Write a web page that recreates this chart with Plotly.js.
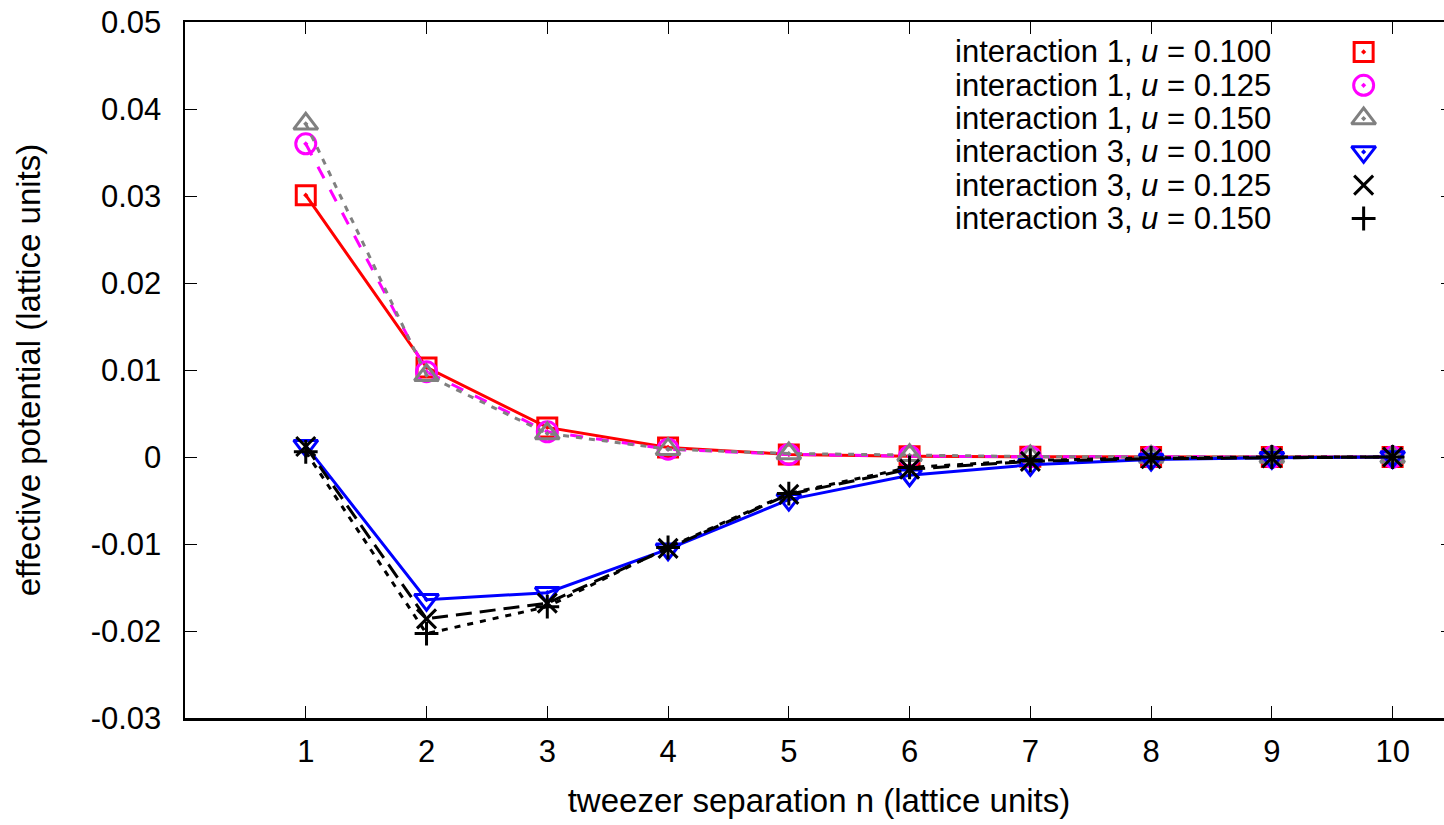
<!DOCTYPE html>
<html>
<head>
<meta charset="utf-8">
<script src="https://cdn.plot.ly/plotly-3.0.1.min.js"></script>
<style>
html, body { margin: 0; padding: 0; overflow: hidden; background: #fff; }
#chart { width: 1460px; height: 825px; }
</style>
</head>
<body>
<div id="chart"></div>
<script>
// ---- data ----
const separation = [1, 2, 3, 4, 5, 6, 7, 8, 9, 10];

const int1_u0100 = [0.0301, 0.0103, 0.0034, 0.0011, 0.0003, 0.0001, 0.00003, 0.0, 0.0, 0.0];
const int1_u0125 = [0.0360, 0.0098, 0.0029, 0.0009, 0.0003, 0.0001, 0.00003, 0.0, 0.0, 0.0];
const int1_u0150 = [0.0383, 0.0094, 0.0027, 0.0009, 0.0004, 0.0002, 0.00005, 0.0, 0.0, 0.0];
const int3_u0100 = [0.0013, -0.0164, -0.0156, -0.0106, -0.0049, -0.0021, -0.0009, -0.0003, -0.0001, 0.0];
const int3_u0125 = [0.0012, -0.0186, -0.0168, -0.0105, -0.0043, -0.0014, -0.0005, -0.0002, -0.0001, 0.0];
const int3_u0150 = [0.0006, -0.0203, -0.0172, -0.0104, -0.0042, -0.0012, -0.0004, -0.0001, 0.0, 0.0];

const seriesNames = [
  "interaction 1, <i>u</i> = 0.100",
  "interaction 1, <i>u</i> = 0.125",
  "interaction 1, <i>u</i> = 0.150",
  "interaction 3, <i>u</i> = 0.100",
  "interaction 3, <i>u</i> = 0.125",
  "interaction 3, <i>u</i> = 0.150"
];
const legendRows = [0, 1, 2, 3, 4, 5];

const xTickVals = [1, 2, 3, 4, 5, 6, 7, 8, 9, 10];
const yTickVals = [-0.03, -0.02, -0.01, 0, 0.01, 0.02, 0.03, 0.04, 0.05];
const yTickText = ["-0.03", "-0.02", "-0.01", "0", "0.01", "0.02", "0.03", "0.04", "0.05"];

const xTitle = "tweezer separation n (lattice units)";
const yTitle = "effective potential (lattice units)";

// ---- styles ----
const FONT = "Liberation Sans, Arial, Helvetica, sans-serif";
const FS = 31;
const FS_TEXT = 33;
const FS_KEY = 31;
const styles = [
  {color: "#ff0000", dash: "solid",        symbol: "square-open-dot",        size: 19},
  {color: "#ff00ff", dash: "13px,13px",    symbol: "circle-open-dot",        size: 20},
  {color: "#808080", dash: "6px,7px",      symbol: "triangle-up-open-dot",   size: 21},
  {color: "#0000ff", dash: "solid",        symbol: "triangle-down-open-dot", size: 21},
  {color: "#000000", dash: "16px,8px",     symbol: "x-thin-open",            size: 19},
  {color: "#000000", dash: "6px,7px",      symbol: "cross-thin-open",        size: 17}
];
const allSeries = [int1_u0100, int1_u0125, int1_u0150, int3_u0100, int3_u0125, int3_u0150];

const traces = allSeries.map((ys, i) => ({
  type: "scatter",
  mode: "lines+markers",
  x: separation,
  y: ys,
  name: seriesNames[i],
  showlegend: false,
  line: {color: styles[i].color, width: 3, dash: styles[i].dash},
  marker: {symbol: styles[i].symbol, size: styles[i].size, color: styles[i].color,
           line: {color: styles[i].color, width: 3}}
}));

// key markers (gnuplot-style key: text left, symbol right)
const KEY_X = 9.76;
legendRows.forEach((r, i) => {
  traces.push({
    type: "scatter",
    mode: "markers",
    x: [KEY_X],
    y: [r],
    yaxis: "y2",
    showlegend: false,
    hoverinfo: "skip",
    marker: {symbol: styles[i].symbol, size: styles[i].size, color: styles[i].color,
             line: {color: styles[i].color, width: 3}}
  });
});

const annotations = legendRows.map((r, i) => ({
  xref: "x", yref: "y2",
  x: 6.36, y: r,
  xanchor: "left", yanchor: "middle",
  text: seriesNames[i],
  showarrow: false,
  font: {family: FONT, size: FS_KEY, color: "#000"}
}));

const layout = {
  width: 1460,
  height: 825,
  margin: {l: 185, r: 7, t: 22, b: 107},
  paper_bgcolor: "#fff",
  plot_bgcolor: "#fff",
  font: {family: FONT, size: FS, color: "#000"},
  showlegend: false,
  xaxis: {
    range: [0, 10.5],
    tickvals: xTickVals,
    ticks: "inside",
    ticklen: 12,
    tickwidth: 1,
    tickcolor: "#000",
    showline: true,
    linewidth: 2.5,
    linecolor: "#000",
    mirror: "ticks",
    showgrid: false,
    zeroline: false,
    ticklabelstandoff: 4,
    tickfont: {family: FONT, size: FS},
    title: {text: xTitle, font: {family: FONT, size: FS_TEXT}, standoff: 21}
  },
  yaxis: {
    range: [-0.03, 0.05],
    tickvals: yTickVals,
    ticktext: yTickText,
    ticks: "inside",
    ticklen: 12,
    tickwidth: 1,
    tickcolor: "#000",
    showline: true,
    linewidth: 2.5,
    linecolor: "#000",
    mirror: "ticks",
    showgrid: false,
    zeroline: false,
    ticklabelstandoff: 15,
    tickfont: {family: FONT, size: FS},
    title: {text: yTitle, font: {family: FONT, size: FS_TEXT}, standoff: 40}
  },
  yaxis2: {
    overlaying: "y",
    range: [20.0, -0.9],
    visible: false,
    showgrid: false,
    zeroline: false
  },
  annotations: annotations
};

Plotly.newPlot("chart", traces, layout, {displayModeBar: false, staticPlot: true});
</script>
</body>
</html>
